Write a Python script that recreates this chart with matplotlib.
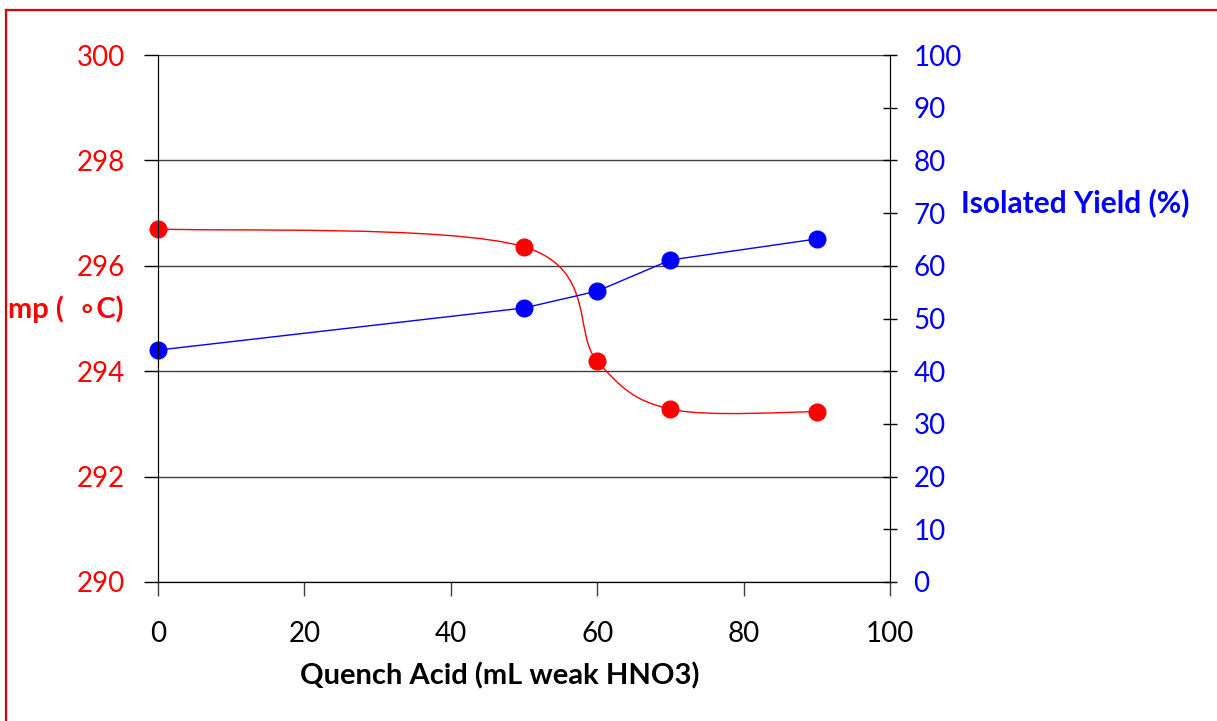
import numpy as np
import matplotlib
matplotlib.use("Agg")
import matplotlib.pyplot as plt
from matplotlib.path import Path
from matplotlib.patches import PathPatch
from matplotlib.lines import Line2D

plt.rcParams['font.family'] = ['Lato', 'DejaVu Sans']

# data
acid_ml = [0, 50, 60, 70, 90]
melting_point = [296.70, 296.36, 294.19, 293.28, 293.23]
yield_pct = [44.0, 52.0, 55.2, 61.1, 65.1]

x_ticks = [0, 20, 40, 60, 80, 100]
mp_ticks = [290, 292, 294, 296, 298, 300]
yield_ticks = [0, 10, 20, 30, 40, 50, 60, 70, 80, 90, 100]

RED = '#FF0000'
BLUE = '#0000FF'


def smooth_path(xs, ys):
    """Excel-style smoothed line as cubic bezier segments."""
    xs = np.asarray(xs, float)
    ys = np.asarray(ys, float)
    n = len(xs)
    verts = [(xs[0], ys[0])]
    codes = [Path.MOVETO]
    for i in range(n - 1):
        p0 = np.array([xs[max(i - 1, 0)], ys[max(i - 1, 0)]])
        p1 = np.array([xs[i], ys[i]])
        p2 = np.array([xs[i + 1], ys[i + 1]])
        p3 = np.array([xs[min(i + 2, n - 1)], ys[min(i + 2, n - 1)]])
        c1 = p1 + (p2 - p0) / 6.0
        c2 = p2 - (p3 - p1) / 6.0
        verts += [tuple(c1), tuple(c2), tuple(p2)]
        codes += [Path.CURVE4] * 3
    return Path(verts, codes)


fig = plt.figure(figsize=(12.17, 7.21), dpi=100)
ax = fig.add_axes([158 / 1217, 1 - 582 / 721, (890 - 158) / 1217, (582 - 55) / 721])
ax2 = ax.twinx()

# left axis: melting point, smoothed red curve
patch = PathPatch(smooth_path(acid_ml, melting_point), facecolor='none',
                  edgecolor=RED, linewidth=1.0, zorder=3)
ax.add_patch(patch)
ax.plot(acid_ml, melting_point, 'o', color=RED, markersize=12, zorder=4,
        clip_on=False)

# right axis: yield, straight blue lines
ax2.plot(acid_ml, yield_pct, '-o', color=BLUE, markersize=12, linewidth=1.0,
         clip_on=False)

ax.set_xlim(0, 100)
ax.set_ylim(290, 300)
ax2.set_ylim(0, 100)
ax.set_xticks(x_ticks)
ax.set_yticks(mp_ticks)
ax2.set_yticks(yield_ticks)

ax.grid(True, axis='y', color='#404040', linewidth=1.0)
ax.set_axisbelow(True)
ax.spines['top'].set_visible(False)
ax2.spines['top'].set_visible(False)
for sp in ('left', 'bottom'):
    ax.spines[sp].set_color('black')
ax2.spines['right'].set_color('black')

ax.tick_params(axis='y', colors='black', labelcolor=RED, labelsize=20,
               length=10, width=1, direction='out', pad=14)
ax.tick_params(axis='x', labelsize=20, length=10, width=1, direction='out',
               pad=18, color='#404040')
ax2.tick_params(axis='y', colors='black', labelcolor=BLUE, labelsize=20,
                length=10, width=1, direction='inout', pad=12)

# axis titles placed as in the reference
fig.text(500 / 1217, 1 - 676 / 721, 'Quench Acid (mL weak HNO3)',
         fontsize=21, fontweight='bold', ha='center', va='center')
fig.text(8 / 1217, 1 - 309 / 721, 'mp (  \u2218C)', color=RED, fontsize=21,
         fontweight='bold', ha='left', va='center')
fig.text(961 / 1217, 1 - 203 / 721, 'Isolated Yield (%)', color=BLUE,
         fontsize=21.5, fontweight='bold', ha='left', va='center')

# red frame around the chart
fig.add_artist(Line2D([6 / 1217, 1.0], [1 - 10 / 721, 1 - 10 / 721],
                      color='#DD0000', linewidth=1.6))
fig.add_artist(Line2D([6 / 1217, 6 / 1217], [0.0, 1 - 10 / 721],
                      color='#DD0000', linewidth=1.6))

fig.savefig('out.png', dpi=100)
